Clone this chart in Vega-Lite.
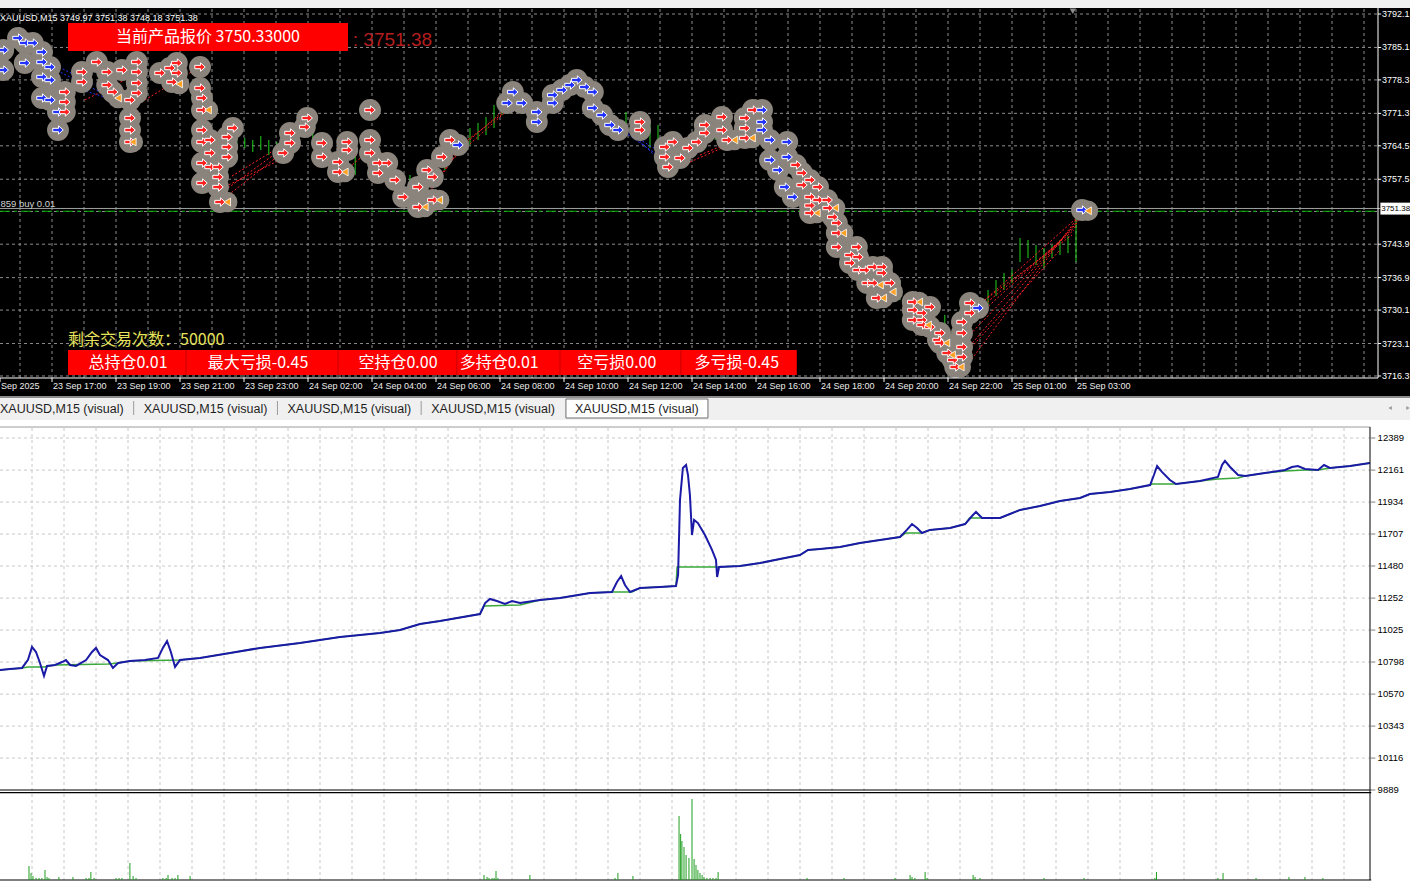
{
"$schema": "https://vega.github.io/schema/vega-lite/v6.json",
"background": "#f0f0f0",
"padding": {"top": 8, "left": 0, "right": 0, "bottom": 0},
"spacing": 0,
"bounds": "flush",
"config": {"view": {"stroke": null}, "font": "Liberation Sans", "axis": {"disable": true}, "legend": {"disable": true}},
"datasets": {
"pgrid": [{"p":3716.3},{"p":3723.1},{"p":3730.1},{"p":3736.9},{"p":3743.9},{"p":3750.75},{"p":3757.5},{"p":3764.5},{"p":3771.3},{"p":3778.3},{"p":3785.1},{"p":3792.1}],
"plabels": [{"p":3716.3},{"p":3723.1},{"p":3730.1},{"p":3736.9},{"p":3743.9},{"p":3757.5},{"p":3764.5},{"p":3771.3},{"p":3778.3},{"p":3785.1},{"p":3792.1}],
"tgrid": [{"b":0},{"b":4},{"b":8},{"b":12},{"b":16},{"b":20},{"b":24},{"b":28},{"b":32},{"b":36},{"b":40},{"b":44},{"b":48},{"b":52},{"b":56},{"b":60},{"b":64},{"b":68},{"b":72},{"b":76},{"b":80},{"b":84},{"b":88},{"b":92},{"b":96},{"b":100},{"b":104},{"b":108},{"b":112},{"b":116},{"b":120},{"b":124},{"b":128},{"b":132},{"b":136},{"b":140},{"b":144},{"b":148},{"b":152},{"b":156},{"b":160},{"b":164},{"b":168}],
"times": [{"b":-2.5,"label":"Sep 2025"},{"b":4,"label":"23 Sep 17:00"},{"b":12,"label":"23 Sep 19:00"},{"b":20,"label":"23 Sep 21:00"},{"b":28,"label":"23 Sep 23:00"},{"b":36,"label":"24 Sep 02:00"},{"b":44,"label":"24 Sep 04:00"},{"b":52,"label":"24 Sep 06:00"},{"b":60,"label":"24 Sep 08:00"},{"b":68,"label":"24 Sep 10:00"},{"b":76,"label":"24 Sep 12:00"},{"b":84,"label":"24 Sep 14:00"},{"b":92,"label":"24 Sep 16:00"},{"b":100,"label":"24 Sep 18:00"},{"b":108,"label":"24 Sep 20:00"},{"b":116,"label":"24 Sep 22:00"},{"b":124,"label":"25 Sep 01:00"},{"b":132,"label":"25 Sep 03:00"}],
"ohlc": [
{"b":27.1,"p":3763.62,"p2":3767.18},{"b":28.1,"p":3764.04,"p2":3766.13},{"b":29.1,"p":3763.2,"p2":3765.72},{"b":30.1,"p":3763.62,"p2":3766.55},{"b":31.1,"p":3762.57,"p2":3765.72},{"b":32.1,"p":3761.95,"p2":3765.3},
{"b":56.25,"p":3764.67,"p2":3768.23},{"b":57.25,"p":3765.72,"p2":3769.28},{"b":58.25,"p":3766.76,"p2":3770.53},{"b":59.25,"p":3768.23,"p2":3773.05},{"b":60.25,"p":3770.95,"p2":3775.14},
{"b":75.75,"p":3766.76,"p2":3771.58},{"b":76.75,"p":3767.81,"p2":3770.32},{"b":78.75,"p":3764.04,"p2":3769.49},{"b":79.75,"p":3764.67,"p2":3768.86},
{"b":120,"p":3729.7,"p2":3732.21},{"b":121,"p":3731.17,"p2":3734.31},{"b":122,"p":3733.05,"p2":3736.4},{"b":123,"p":3734.31,"p2":3737.87},{"b":124,"p":3735.77,"p2":3738.49},{"b":125,"p":3740.17,"p2":3745.19},{"b":126,"p":3741.01,"p2":3744.78},{"b":127,"p":3739.54,"p2":3743.73},{"b":128,"p":3738.91,"p2":3743.1},{"b":129,"p":3741.01,"p2":3743.73},{"b":130,"p":3741.63,"p2":3744.78},{"b":131,"p":3742.05,"p2":3745.61},{"b":132,"p":3740.17,"p2":3749.38},
{"b":11.6,"p":3774.09,"p2":3781.42},{"b":20.6,"p":3776.19,"p2":3782.47},{"b":36.6,"p":3765.72,"p2":3770.95},{"b":41.9,"p":3758.39,"p2":3765.72},{"b":48.75,"p":3752.1,"p2":3758.39},{"b":53.1,"p":3759.43,"p2":3764.04},{"b":65.6,"p":3770.32,"p2":3776.6},{"b":86.9,"p":3765.72,"p2":3770.32},{"b":97.5,"p":3754.2,"p2":3761.53},{"b":110,"p":3732.21,"p2":3736.4},{"b":115.6,"p":3722.79,"p2":3729.07}],
"segs": [
{"b":25.25,"p":3753.15,"b2":32.9,"p2":3763.2,"side":"sell"},{"b":26,"p":3755.66,"b2":33.75,"p2":3765.09,"side":"sell"},{"b":26.5,"p":3758.18,"b2":34.5,"p2":3766.34,"side":"sell"},{"b":24.75,"p":3755.25,"b2":32.5,"p2":3761.53,"side":"sell"},
{"b":50,"p":3752.1,"b2":54.75,"p2":3763.62,"side":"sell"},{"b":51,"p":3754.2,"b2":55.6,"p2":3765.3,"side":"sell"},{"b":54,"p":3761.53,"b2":61.25,"p2":3772.42,"side":"sell"},{"b":54.75,"p":3763.62,"b2":62.25,"p2":3774.51,"side":"sell"},{"b":55.6,"p":3765.3,"b2":60.6,"p2":3771.58,"side":"sell"},
{"b":117.75,"p":3717.14,"b2":132.75,"p2":3750.64,"side":"sell"},{"b":117.75,"p":3720.7,"b2":132.5,"p2":3749.38,"side":"sell"},{"b":118.1,"p":3723.84,"b2":132.25,"p2":3748.55,"side":"sell"},{"b":118.5,"p":3726.98,"b2":132,"p2":3747.71,"side":"sell"},{"b":119,"p":3729.07,"b2":131.75,"p2":3746.87,"side":"sell"},{"b":119.75,"p":3731.17,"b2":131.5,"p2":3745.82,"side":"sell"},{"b":116.9,"p":3718.6,"b2":130,"p2":3742.68,"side":"sell"},{"b":120.6,"p":3732.21,"b2":132.5,"p2":3750.01,"side":"sell"},
{"b":40,"p":3758.39,"b2":43.75,"p2":3763.62,"side":"sell"},{"b":83.75,"p":3761.11,"b2":90.6,"p2":3766.13,"side":"sell"},{"b":85,"p":3762.57,"b2":92.5,"p2":3767.81,"side":"sell"},{"b":8.1,"p":3774.09,"b2":13.1,"p2":3778.28,"side":"sell"},{"b":15.6,"p":3774.09,"b2":22.25,"p2":3780.79,"side":"sell"},
{"b":3.75,"p":3781.0,"b2":10,"p2":3775.77,"side":"buy"},{"b":4.4,"p":3777.86,"b2":10.6,"p2":3774.72,"side":"buy"},{"b":3.1,"p":3782.47,"b2":9.4,"p2":3777.23,"side":"buy"},{"b":71.9,"p":3771.58,"b2":80.6,"p2":3761.53,"side":"buy"},{"b":73.1,"p":3772.42,"b2":81,"p2":3759.85,"side":"buy"},{"b":74,"p":3769.49,"b2":80,"p2":3763.2,"side":"buy"}],
"marks": [
{"b":-2.1,"p":3784.56,"side":"buy"},{"b":-2.1,"p":3780.37,"side":"buy"},{"b":-0.25,"p":3787.07,"side":"buy"},{"b":0.6,"p":3786.03,"side":"buy"},{"b":0.6,"p":3781.84,"side":"buy"},{"b":1.6,"p":3786.03,"side":"buy"},{"b":2.75,"p":3784.14,"side":"buy"},{"b":2.75,"p":3782.05,"side":"buy"},{"b":3.75,"p":3781.0,"side":"buy"},{"b":2.75,"p":3778.91,"side":"buy"},{"b":3.75,"p":3778.28,"side":"buy"},{"b":2.75,"p":3774.51,"side":"buy"},{"b":3.75,"p":3774.09,"side":"buy"},{"b":4.75,"p":3771.58,"side":"buy"},{"b":4.75,"p":3767.81,"side":"buy"},
{"b":5.6,"p":3775.77,"side":"sell"},{"b":5.6,"p":3773.67,"side":"sell"},{"b":5.6,"p":3771.58,"side":"sell"},{"b":7.75,"p":3779.95,"side":"sell"},{"b":7.75,"p":3777.86,"side":"sell"},{"b":9.6,"p":3782.05,"side":"sell"},{"b":10.9,"p":3779.95,"side":"sell"},{"b":10.9,"p":3777.23,"side":"sell"},{"b":11.6,"p":3775.77,"side":"sell"},{"b":12.75,"p":3780.37,"side":"sell"},{"b":13.75,"p":3774.09,"side":"sell"},{"b":13.75,"p":3770.32,"side":"sell"},{"b":13.75,"p":3767.81,"side":"sell"},{"b":13.75,"p":3765.3,"side":"sell"},{"b":14.6,"p":3782.05,"side":"sell"},{"b":14.6,"p":3779.95,"side":"sell"},{"b":14.6,"p":3777.65,"side":"sell"},{"b":14.6,"p":3775.56,"side":"sell"},{"b":17.5,"p":3779.75,"side":"sell"},{"b":18.75,"p":3780.79,"side":"sell"},{"b":19,"p":3777.86,"side":"sell"},{"b":19.6,"p":3781.84,"side":"sell"},{"b":19.6,"p":3779.75,"side":"sell"},
{"b":22.5,"p":3781.0,"side":"sell"},{"b":22.5,"p":3776.6,"side":"sell"},{"b":22.75,"p":3774.51,"side":"sell"},{"b":22.75,"p":3772.0,"side":"sell"},{"b":22.75,"p":3767.81,"side":"sell"},{"b":22.75,"p":3765.3,"side":"sell"},{"b":22.75,"p":3760.9,"side":"sell"},{"b":22.75,"p":3756.71,"side":"sell"},{"b":23.75,"p":3765.72,"side":"sell"},{"b":23.75,"p":3763.0,"side":"sell"},{"b":23.75,"p":3760.06,"side":"sell"},{"b":24.75,"p":3760.06,"side":"sell"},{"b":24.75,"p":3757.97,"side":"sell"},{"b":24.75,"p":3755.87,"side":"sell"},{"b":25,"p":3752.73,"side":"sell"},{"b":25.9,"p":3766.34,"side":"sell"},{"b":25.9,"p":3764.25,"side":"sell"},{"b":25.9,"p":3762.16,"side":"sell"},{"b":26.6,"p":3768.23,"side":"sell"},
{"b":32.9,"p":3763.0,"side":"sell"},{"b":33.75,"p":3767.18,"side":"sell"},{"b":33.75,"p":3765.09,"side":"sell"},{"b":35.9,"p":3770.32,"side":"sell"},{"b":35.6,"p":3768.44,"side":"sell"},{"b":37.75,"p":3765.09,"side":"sell"},{"b":37.75,"p":3762.16,"side":"sell"},{"b":39.75,"p":3761.11,"side":"sell"},{"b":39.75,"p":3759.01,"side":"sell"},{"b":40.9,"p":3765.3,"side":"sell"},{"b":40.9,"p":3763.62,"side":"sell"},{"b":43.75,"p":3772.0,"side":"sell"},{"b":43.75,"p":3765.72,"side":"sell"},{"b":43.75,"p":3763.0,"side":"sell"},{"b":44.75,"p":3760.9,"side":"sell"},{"b":44.75,"p":3758.81,"side":"sell"},{"b":45.9,"p":3760.9,"side":"sell"},{"b":46.9,"p":3757.34,"side":"sell"},{"b":47.9,"p":3753.78,"side":"sell"},{"b":49.75,"p":3755.87,"side":"sell"},{"b":49.75,"p":3751.69,"side":"sell"},{"b":50.9,"p":3759.43,"side":"sell"},{"b":51.6,"p":3757.97,"side":"sell"},{"b":51.6,"p":3753.15,"side":"sell"},{"b":52.75,"p":3762.16,"side":"sell"},{"b":53.75,"p":3765.72,"side":"sell"},{"b":54.75,"p":3764.67,"side":"buy"},
{"b":60.9,"p":3773.46,"side":"buy"},{"b":61.6,"p":3775.77,"side":"buy"},{"b":62.75,"p":3773.46,"side":"buy"},{"b":64.6,"p":3771.58,"side":"buy"},{"b":64.6,"p":3769.49,"side":"buy"},{"b":66.6,"p":3775.14,"side":"buy"},{"b":66.6,"p":3773.46,"side":"buy"},{"b":67.75,"p":3776.19,"side":"buy"},{"b":68.75,"p":3777.23,"side":"buy"},{"b":69.6,"p":3778.28,"side":"buy"},{"b":70.6,"p":3776.81,"side":"buy"},{"b":71.6,"p":3775.77,"side":"buy"},{"b":71.6,"p":3772.42,"side":"buy"},{"b":72.75,"p":3770.95,"side":"buy"},{"b":73.75,"p":3768.86,"side":"buy"},{"b":74.75,"p":3767.81,"side":"buy"},
{"b":77.5,"p":3769.49,"side":"sell"},{"b":77.5,"p":3767.81,"side":"sell"},{"b":80.6,"p":3764.25,"side":"sell"},{"b":80.6,"p":3762.16,"side":"sell"},{"b":81,"p":3760.06,"side":"sell"},{"b":81.6,"p":3765.3,"side":"sell"},{"b":82.5,"p":3761.95,"side":"sell"},{"b":83.5,"p":3764.04,"side":"sell"},{"b":84.6,"p":3765.3,"side":"sell"},{"b":85.6,"p":3768.86,"side":"sell"},{"b":85.6,"p":3767.18,"side":"sell"},{"b":87.75,"p":3770.53,"side":"sell"},{"b":87.75,"p":3767.81,"side":"sell"},{"b":88.4,"p":3765.72,"side":"sell"},{"b":90.6,"p":3770.32,"side":"sell"},{"b":90.6,"p":3768.2,"side":"sell"},{"b":90.6,"p":3766.13,"side":"sell"},{"b":91.6,"p":3772.0,"side":"sell"},
{"b":92.75,"p":3772.0,"side":"buy"},{"b":92.75,"p":3769.49,"side":"buy"},{"b":92.75,"p":3767.81,"side":"buy"},{"b":93.75,"p":3765.72,"side":"buy"},{"b":93.75,"p":3761.53,"side":"buy"},{"b":94.75,"p":3759.43,"side":"buy"},{"b":95.9,"p":3765.3,"side":"buy"},{"b":95.9,"p":3762.16,"side":"buy"},{"b":95.6,"p":3755.87,"side":"buy"},{"b":96.6,"p":3753.78,"side":"buy"},
{"b":97.0,"p":3760.5,"side":"sell"},{"b":97.75,"p":3758.81,"side":"sell"},{"b":97.75,"p":3756.29,"side":"sell"},{"b":98.75,"p":3757.34,"side":"sell"},{"b":98.75,"p":3753.78,"side":"sell"},{"b":98.75,"p":3752.0,"side":"sell"},{"b":98.75,"p":3750.43,"side":"sell"},{"b":99.75,"p":3755.87,"side":"sell"},{"b":99.75,"p":3753.15,"side":"sell"},{"b":100.9,"p":3753.15,"side":"sell"},{"b":101,"p":3751.48,"side":"sell"},{"b":101.6,"p":3749.59,"side":"sell"},{"b":102.1,"p":3748.34,"side":"sell"},{"b":102.1,"p":3746.24,"side":"sell"},{"b":102.1,"p":3743.31,"side":"sell"},{"b":103.75,"p":3741.63,"side":"sell"},{"b":103.75,"p":3739.96,"side":"sell"},{"b":104.6,"p":3743.31,"side":"sell"},{"b":104.75,"p":3741.21,"side":"sell"},{"b":104.75,"p":3738.49,"side":"sell"},{"b":105.6,"p":3738.49,"side":"sell"},{"b":105.9,"p":3735.77,"side":"sell"},{"b":106.6,"p":3739.12,"side":"sell"},{"b":106.6,"p":3735.77,"side":"sell"},{"b":107.75,"p":3739.12,"side":"sell"},{"b":107.75,"p":3737.87,"side":"sell"},{"b":108.75,"p":3735.77,"side":"sell"},{"b":107.1,"p":3732.63,"side":"sell"},
{"b":111.6,"p":3731.79,"side":"sell"},{"b":111.6,"p":3730.12,"side":"sell"},{"b":111.6,"p":3728.02,"side":"sell"},{"b":112.75,"p":3729.49,"side":"sell"},{"b":112.75,"p":3728.02,"side":"sell"},{"b":112.75,"p":3726.98,"side":"sell"},{"b":113.75,"p":3730.75,"side":"sell"},{"b":113.75,"p":3726.56,"side":"sell"},{"b":114.75,"p":3723.84,"side":"sell"},{"b":115,"p":3725.3,"side":"sell"},{"b":115,"p":3723.21,"side":"sell"},{"b":115.9,"p":3721.11,"side":"sell"},{"b":116.6,"p":3719.65,"side":"sell"},{"b":116.9,"p":3718.18,"side":"sell"},{"b":117.75,"p":3720.28,"side":"sell"},{"b":117.75,"p":3722.37,"side":"sell"},{"b":117.75,"p":3725.3,"side":"sell"},{"b":117.75,"p":3727.61,"side":"sell"},{"b":118.75,"p":3731.58,"side":"sell"},{"b":118.75,"p":3729.49,"side":"sell"},
{"b":119.75,"p":3730.54,"side":"buy"},{"b":132.75,"p":3751.06,"side":"buy"}],
"closes": [{"b":12.25,"p":3774.51},{"b":14.1,"p":3765.3},{"b":19.9,"p":3777.44},{"b":23.5,"p":3772.0},{"b":25.9,"p":3752.73},{"b":40.6,"p":3759.01},{"b":50.6,"p":3751.69},{"b":52.4,"p":3753.15},{"b":89.3,"p":3765.72},{"b":91.5,"p":3766.13},{"b":99.6,"p":3750.43},{"b":101.9,"p":3751.48},{"b":102.9,"p":3746.24},{"b":107.5,"p":3735.35},{"b":107.9,"p":3732.63},{"b":109.1,"p":3733.89},{"b":112.4,"p":3731.79},{"b":113.5,"p":3726.98},{"b":115.8,"p":3723.21},{"b":116.5,"p":3720.7},{"b":117.6,"p":3718.18},{"b":133.5,"p":3750.9}],
"cells": [{"b":13.5,"label":"总持仓0.01"},{"b":29.75,"label":"最大亏损-0.45"},{"b":47.25,"label":"空持仓0.00"},{"b":59.9,"label":"多持仓0.01"},{"b":74.6,"label":"空亏损0.00"},{"b":89.6,"label":"多亏损-0.45"}],
"dividers": [{"b":20.75},{"b":39.75},{"b":54.6},{"b":67.5},{"b":82.6}],
"tabs": [{"t":0,"label":"XAUUSD,M15 (visual)"},{"t":1,"label":"XAUUSD,M15 (visual)"},{"t":2,"label":"XAUUSD,M15 (visual)"},{"t":3,"label":"XAUUSD,M15 (visual)"},{"t":4,"label":"XAUUSD,M15 (visual)"}],
"tabseps": [{"t":0.93},{"t":1.93},{"t":2.93}],
"egrid": [{"v":12389},{"v":12161},{"v":11934},{"v":11707},{"v":11480},{"v":11252},{"v":11025},{"v":10798},{"v":10570},{"v":10343},{"v":10116}],
"elabels": [{"v":12389},{"v":12161},{"v":11934},{"v":11707},{"v":11480},{"v":11252},{"v":11025},{"v":10798},{"v":10570},{"v":10343},{"v":10116},{"v":9889}],
"ugrid": [{"u":1},{"u":2},{"u":3},{"u":4},{"u":5},{"u":6},{"u":7},{"u":8},{"u":9},{"u":10},{"u":11},{"u":12},{"u":13},{"u":14},{"u":15},{"u":16},{"u":17},{"u":18},{"u":19},{"u":20},{"u":21},{"u":22},{"u":23},{"u":24},{"u":25},{"u":26},{"u":27},{"u":28},{"u":29},{"u":30},{"u":31},{"u":32},{"u":33},{"u":34},{"u":35},{"u":36},{"u":37},{"u":38},{"u":39},{"u":40},{"u":41},{"u":42}],
"blue": [{"u":0,"v":10741},{"u":0.31,"v":10749},{"u":0.69,"v":10756},{"u":0.875,"v":10813},{"u":1.0,"v":10905},{"u":1.125,"v":10869},{"u":1.25,"v":10791},{"u":1.375,"v":10699},{"u":1.47,"v":10770},{"u":1.72,"v":10777},{"u":1.94,"v":10798},{"u":2.06,"v":10812},{"u":2.19,"v":10777},{"u":2.375,"v":10770},{"u":2.69,"v":10812},{"u":2.875,"v":10869},{"u":3.0,"v":10898},{"u":3.125,"v":10848},{"u":3.375,"v":10812},{"u":3.53,"v":10756},{"u":3.69,"v":10791},{"u":4.06,"v":10805},{"u":4.53,"v":10812},{"u":4.94,"v":10827},{"u":5.09,"v":10898},{"u":5.22,"v":10947},{"u":5.34,"v":10869},{"u":5.47,"v":10763},{"u":5.625,"v":10812},{"u":6.25,"v":10827},{"u":7.19,"v":10862},{"u":8.125,"v":10898},{"u":9.375,"v":10933},{"u":10.625,"v":10976},{"u":11.875,"v":11004},{"u":12.5,"v":11025},{"u":13.125,"v":11068},{"u":13.75,"v":11089},{"u":15.0,"v":11139},{"u":15.16,"v":11217},{"u":15.31,"v":11246},{"u":15.53,"v":11231},{"u":15.78,"v":11210},{"u":16.0,"v":11231},{"u":16.25,"v":11217},{"u":16.875,"v":11238},{"u":17.5,"v":11253},{"u":18.44,"v":11288},{"u":19.125,"v":11295},{"u":19.28,"v":11366},{"u":19.41,"v":11409},{"u":19.53,"v":11345},{"u":19.69,"v":11295},{"u":20.0,"v":11324},{"u":20.625,"v":11331},{"u":21.125,"v":11338},{"u":21.19,"v":11416},{"u":21.25,"v":11949},{"u":21.34,"v":12176},{"u":21.44,"v":12197},{"u":21.5,"v":12126},{"u":21.56,"v":11984},{"u":21.625,"v":11700},{"u":21.69,"v":11807},{"u":21.81,"v":11785},{"u":22.03,"v":11700},{"u":22.25,"v":11594},{"u":22.375,"v":11523},{"u":22.41,"v":11402},{"u":22.47,"v":11473},{"u":23.125,"v":11480},{"u":23.75,"v":11501},{"u":24.375,"v":11530},{"u":25.0,"v":11558},{"u":25.25,"v":11594},{"u":25.625,"v":11601},{"u":26.25,"v":11615},{"u":26.875,"v":11643},{"u":27.5,"v":11665},{"u":28.125,"v":11686},{"u":28.34,"v":11736},{"u":28.5,"v":11778},{"u":28.66,"v":11750},{"u":28.81,"v":11714},{"u":29.06,"v":11736},{"u":29.69,"v":11750},{"u":30.16,"v":11778},{"u":30.375,"v":11835},{"u":30.5,"v":11864},{"u":30.69,"v":11821},{"u":31.25,"v":11821},{"u":31.56,"v":11849},{"u":31.875,"v":11878},{"u":32.5,"v":11906},{"u":33.125,"v":11942},{"u":33.75,"v":11963},{"u":34.06,"v":11991},{"u":34.69,"v":12006},{"u":35.31,"v":12027},{"u":35.94,"v":12055},{"u":36.06,"v":12126},{"u":36.16,"v":12190},{"u":36.31,"v":12148},{"u":36.56,"v":12091},{"u":36.75,"v":12062},{"u":37.5,"v":12084},{"u":38.06,"v":12112},{"u":38.19,"v":12197},{"u":38.28,"v":12226},{"u":38.44,"v":12183},{"u":38.69,"v":12126},{"u":38.91,"v":12119},{"u":39.53,"v":12140},{"u":40.16,"v":12162},{"u":40.375,"v":12183},{"u":40.56,"v":12190},{"u":40.78,"v":12169},{"u":41.19,"v":12162},{"u":41.375,"v":12197},{"u":41.56,"v":12176},{"u":42.19,"v":12190},{"u":42.81,"v":12211}],
"green": [{"u":0,"v":10741},{"u":0.69,"v":10756},{"u":0.875,"v":10763},{"u":1.375,"v":10763},{"u":1.72,"v":10777},{"u":3.375,"v":10784},{"u":3.69,"v":10791},{"u":4.06,"v":10805},{"u":5.625,"v":10812},{"u":6.25,"v":10827},{"u":7.19,"v":10862},{"u":8.125,"v":10898},{"u":9.375,"v":10933},{"u":10.625,"v":10976},{"u":11.875,"v":11004},{"u":12.5,"v":11025},{"u":13.125,"v":11068},{"u":13.75,"v":11089},{"u":15.0,"v":11139},{"u":15.13,"v":11196},{"u":16.25,"v":11203},{"u":16.875,"v":11238},{"u":17.5,"v":11253},{"u":18.44,"v":11288},{"u":19.125,"v":11295},{"u":19.75,"v":11295},{"u":20.0,"v":11324},{"u":21.125,"v":11338},{"u":21.16,"v":11473},{"u":22.47,"v":11473},{"u":23.125,"v":11480},{"u":23.75,"v":11501},{"u":24.375,"v":11530},{"u":25.0,"v":11558},{"u":25.25,"v":11594},{"u":25.625,"v":11601},{"u":26.25,"v":11615},{"u":26.875,"v":11643},{"u":27.5,"v":11665},{"u":28.125,"v":11686},{"u":28.3,"v":11714},{"u":28.81,"v":11714},{"u":29.06,"v":11736},{"u":29.69,"v":11750},{"u":30.16,"v":11778},{"u":30.3,"v":11821},{"u":31.25,"v":11821},{"u":31.56,"v":11849},{"u":31.875,"v":11878},{"u":32.5,"v":11906},{"u":33.125,"v":11942},{"u":33.75,"v":11963},{"u":34.06,"v":11991},{"u":34.69,"v":12006},{"u":35.31,"v":12027},{"u":35.94,"v":12055},{"u":36.0,"v":12062},{"u":36.75,"v":12062},{"u":37.5,"v":12084},{"u":38.06,"v":12098},{"u":38.69,"v":12105},{"u":38.91,"v":12119},{"u":39.53,"v":12140},{"u":40.16,"v":12155},{"u":40.78,"v":12162},{"u":41.19,"v":12162},{"u":41.56,"v":12176},{"u":42.19,"v":12190},{"u":42.81,"v":12211}],
"vol": [{"u":0.906,"h":14},{"u":0.969,"h":7},{"u":1.03,"h":4},{"u":1.125,"h":2},{"u":1.22,"h":2},{"u":1.31,"h":2},{"u":1.406,"h":10},{"u":1.47,"h":3},{"u":1.53,"h":2},{"u":1.84,"h":3},{"u":2.28,"h":3},{"u":2.69,"h":2},{"u":2.78,"h":2},{"u":2.84,"h":8},{"u":2.94,"h":2},{"u":3.625,"h":2},{"u":3.72,"h":2},{"u":3.81,"h":2},{"u":4.06,"h":17},{"u":4.16,"h":4},{"u":4.25,"h":2},{"u":5.09,"h":2},{"u":5.19,"h":2},{"u":5.25,"h":5},{"u":5.375,"h":2},{"u":5.47,"h":2},{"u":5.56,"h":5},{"u":5.94,"h":4},{"u":15.125,"h":5},{"u":15.22,"h":3},{"u":15.28,"h":2},{"u":15.375,"h":2},{"u":15.44,"h":2},{"u":15.5,"h":9},{"u":15.56,"h":2},{"u":16.56,"h":5},{"u":19.22,"h":2},{"u":19.31,"h":7},{"u":19.78,"h":4},{"u":21.22,"h":64},{"u":21.27,"h":46},{"u":21.31,"h":39},{"u":21.375,"h":33},{"u":21.44,"h":25},{"u":21.53,"h":22},{"u":21.625,"h":81},{"u":21.69,"h":21},{"u":21.75,"h":15},{"u":21.81,"h":10},{"u":21.875,"h":7},{"u":21.94,"h":5},{"u":22.0,"h":3},{"u":22.09,"h":2},{"u":22.19,"h":2},{"u":22.28,"h":2},{"u":22.375,"h":2},{"u":22.44,"h":8},{"u":25.22,"h":2},{"u":26.375,"h":2},{"u":27.97,"h":2},{"u":28.44,"h":5},{"u":28.5,"h":3},{"u":28.59,"h":2},{"u":28.91,"h":8},{"u":28.97,"h":2},{"u":30.41,"h":5},{"u":30.47,"h":3},{"u":30.625,"h":2},{"u":32.625,"h":2},{"u":33.875,"h":2},{"u":36.09,"h":2},{"u":36.14,"h":8},{"u":38.06,"h":2},{"u":38.22,"h":7},{"u":39.25,"h":2},{"u":40.28,"h":3},{"u":40.78,"h":3},{"u":41.34,"h":2}]
},
"vconcat": [
{
 "width": 1410, "height": 388,
 "view": {"fill": "#000000", "stroke": null},
 "layer": [
  {"data": {"name": "pgrid"}, "mark": {"type": "rule", "color": "#8c8c8c", "strokeDash": [3, 3], "strokeWidth": 1, "clip": true},
   "encoding": {
    "x": {"datum": -2.5, "type": "quantitative", "scale": {"domain": [-2.5, 173.75], "nice": false, "zero": false}, "axis": null},
    "x2": {"datum": 169.75},
    "y": {"field": "p", "type": "quantitative", "scale": {"domain": [3712.11, 3793.36], "nice": false, "zero": false}, "axis": null}}},
  {"data": {"name": "tgrid"}, "mark": {"type": "rule", "color": "#8c8c8c", "strokeDash": [3, 3], "strokeWidth": 1, "clip": true},
   "encoding": {
    "x": {"field": "b", "type": "quantitative", "axis": null},
    "y": {"datum": 3715.88, "type": "quantitative", "axis": null}, "y2": {"datum": 3793.36}}},
  {"data": {"values": [{"p": 3751.38}]}, "mark": {"type": "rule", "color": "#a0a0a0", "strokeWidth": 1, "clip": true},
   "encoding": {"x": {"datum": -2.5, "type": "quantitative", "axis": null}, "x2": {"datum": 170.05},
    "y": {"field": "p", "type": "quantitative", "axis": null}}},
  {"data": {"values": [{"p": 3750.8}]}, "mark": {"type": "rule", "color": "#00b400", "strokeDash": [10, 4, 3, 4], "strokeWidth": 1, "clip": true},
   "encoding": {"x": {"datum": -2.5, "type": "quantitative", "axis": null}, "x2": {"datum": 169.75},
    "y": {"field": "p", "type": "quantitative", "axis": null}}},
  {"data": {"name": "ohlc"}, "mark": {"type": "rule", "color": "#1ed21e", "strokeWidth": 1, "clip": true},
   "encoding": {"x": {"field": "b", "type": "quantitative", "axis": null},
    "y": {"field": "p", "type": "quantitative", "axis": null}, "y2": {"field": "p2"}}},
  {"data": {"name": "segs"}, "mark": {"type": "rule", "strokeDash": [2, 2], "strokeWidth": 1, "clip": true},
   "encoding": {"x": {"field": "b", "type": "quantitative", "axis": null}, "x2": {"field": "b2"},
    "y": {"field": "p", "type": "quantitative", "axis": null}, "y2": {"field": "p2"},
    "color": {"field": "side", "type": "nominal", "scale": {"domain": ["sell", "buy"], "range": ["#ff2020", "#2233ff"]}, "legend": null}}},
  {"data": {"name": "marks"}, "mark": {"type": "circle", "size": 480, "fill": "#8a847c", "opacity": 1, "clip": true},
   "encoding": {"x": {"field": "b", "type": "quantitative", "axis": null}, "y": {"field": "p", "type": "quantitative", "axis": null}}},
  {"data": {"name": "closes"}, "mark": {"type": "circle", "size": 420, "fill": "#8a847c", "opacity": 1, "clip": true},
   "encoding": {"x": {"field": "b", "type": "quantitative", "axis": null}, "y": {"field": "p", "type": "quantitative", "axis": null}}},
  {"data": {"name": "marks"}, "mark": {"type": "point", "shape": "M-1,-0.32L0.1,-0.32L0.1,-0.8L1,0L0.1,0.8L0.1,0.32L-1,0.32Z", "size": 110, "filled": true, "opacity": 1, "stroke": "#ffffff", "strokeWidth": 1, "clip": true},
   "encoding": {"x": {"field": "b", "type": "quantitative", "axis": null}, "y": {"field": "p", "type": "quantitative", "axis": null},
    "color": {"field": "side", "type": "nominal", "scale": {"domain": ["sell", "buy"], "range": ["#ff2020", "#2233ff"]}, "legend": null}}},
  {"data": {"name": "closes"}, "mark": {"type": "point", "shape": "triangle-left", "size": 60, "filled": true, "fill": "#ffa020", "stroke": "#ffffff", "strokeWidth": 0.8, "opacity": 1, "clip": true},
   "encoding": {"x": {"field": "b", "type": "quantitative", "axis": null}, "y": {"field": "p", "type": "quantitative", "axis": null}}},
  {"data": {"values": [{"b": 6.0, "b2": 41.0, "p": 3790.22, "p2": 3784.35}, {"b": 6.0, "b2": 97.1, "p": 3721.74, "p2": 3716.51}]}, "mark": {"type": "rect", "color": "#ff0000"},
   "encoding": {"x": {"field": "b", "type": "quantitative", "axis": null}, "x2": {"field": "b2"},
    "y": {"field": "p", "type": "quantitative", "axis": null}, "y2": {"field": "p2"}}},
  {"data": {"values": [{"b": 23.5, "p": 3787.3, "label": "当前产品报价  3750.33000"}]}, "mark": {"type": "text", "color": "#ffffff", "font": "Noto Sans CJK SC", "fontSize": 16, "align": "center", "baseline": "middle"},
   "encoding": {"x": {"field": "b", "type": "quantitative", "axis": null}, "y": {"field": "p", "type": "quantitative", "axis": null}, "text": {"field": "label", "type": "nominal"}}},
  {"data": {"values": [{"b": 41.6, "p": 3786.7, "label": ":  3751.38"}]}, "mark": {"type": "text", "color": "#b41e1e", "font": "Liberation Sans", "fontSize": 19, "align": "left", "baseline": "middle"},
   "encoding": {"x": {"field": "b", "type": "quantitative", "axis": null}, "y": {"field": "p", "type": "quantitative", "axis": null}, "text": {"field": "label", "type": "nominal"}}},
  {"data": {"values": [{"b": 6.0, "p": 3723.84, "label": "剩余交易次数：50000"}]}, "mark": {"type": "text", "color": "#e6e35c", "font": "Noto Sans CJK SC", "fontSize": 16, "align": "left", "baseline": "middle"},
   "encoding": {"x": {"field": "b", "type": "quantitative", "axis": null}, "y": {"field": "p", "type": "quantitative", "axis": null}, "text": {"field": "label", "type": "nominal"}}},
  {"data": {"name": "dividers"}, "mark": {"type": "rule", "color": "#c80000", "strokeWidth": 1, "clip": true},
   "encoding": {"x": {"field": "b", "type": "quantitative", "axis": null},
    "y": {"datum": 3721.74, "type": "quantitative", "axis": null}, "y2": {"datum": 3716.51}}},
  {"data": {"name": "cells"}, "mark": {"type": "text", "color": "#ffffff", "font": "Noto Sans CJK SC", "fontSize": 16, "align": "center", "baseline": "middle"},
   "encoding": {"x": {"field": "b", "type": "quantitative", "axis": null},
    "y": {"datum": 3719.12, "type": "quantitative", "axis": null}, "text": {"field": "label", "type": "nominal"}}},
  {"data": {"values": [{"b": -2.5, "p": 3791.26, "label": "XAUUSD,M15  3749.97 3751.38 3748.18 3751.38"}]}, "mark": {"type": "text", "color": "#ffffff", "fontSize": 9, "align": "left", "baseline": "middle", "clip": true},
   "encoding": {"x": {"field": "b", "type": "quantitative", "axis": null}, "y": {"field": "p", "type": "quantitative", "axis": null}, "text": {"field": "label", "type": "nominal"}}},
  {"data": {"values": [{"b": -2.45, "p": 3752.4, "label": "859 buy 0.01"}]}, "mark": {"type": "text", "color": "#d0d0d0", "fontSize": 9.5, "align": "left", "baseline": "middle", "clip": true},
   "encoding": {"x": {"field": "b", "type": "quantitative", "axis": null}, "y": {"field": "p", "type": "quantitative", "axis": null}, "text": {"field": "label", "type": "nominal"}}},
  {"data": {"values": [{"p": 3715.88}]}, "mark": {"type": "rule", "color": "#ffffff", "strokeWidth": 1, "clip": true},
   "encoding": {"x": {"datum": -2.5, "type": "quantitative", "axis": null}, "x2": {"datum": 169.75},
    "y": {"field": "p", "type": "quantitative", "axis": null}}},
  {"data": {"values": [{"b": 169.75}]}, "mark": {"type": "rule", "color": "#ffffff", "strokeWidth": 1, "clip": true},
   "encoding": {"x": {"field": "b", "type": "quantitative", "axis": null},
    "y": {"datum": 3715.88, "type": "quantitative", "axis": null}, "y2": {"datum": 3793.36}}},
  {"data": {"name": "times"}, "mark": {"type": "rule", "color": "#ffffff", "strokeWidth": 1, "clip": true},
   "encoding": {"x": {"field": "b", "type": "quantitative", "axis": null},
    "y": {"datum": 3715.88, "type": "quantitative", "axis": null}, "y2": {"datum": 3715.05}}},
  {"data": {"name": "times"}, "mark": {"type": "text", "color": "#ececec", "fontSize": 9, "align": "left", "baseline": "middle", "dx": 1, "clip": true},
   "encoding": {"x": {"field": "b", "type": "quantitative", "axis": null},
    "y": {"datum": 3714.3, "type": "quantitative", "axis": null}, "text": {"field": "label", "type": "nominal"}}},
  {"data": {"name": "plabels"}, "mark": {"type": "rule", "color": "#ffffff", "strokeWidth": 1, "clip": true},
   "encoding": {"x": {"datum": 169.75, "type": "quantitative", "axis": null}, "x2": {"datum": 170.15},
    "y": {"field": "p", "type": "quantitative", "axis": null}}},
  {"data": {"name": "plabels"}, "mark": {"type": "text", "color": "#ffffff", "fontSize": 9, "align": "left", "baseline": "middle", "clip": true},
   "encoding": {"x": {"datum": 170.25, "type": "quantitative", "axis": null},
    "y": {"field": "p", "type": "quantitative", "axis": null}, "text": {"field": "p", "type": "quantitative", "format": ".1f"}}},
  {"data": {"values": [{"b": 170.05, "b2": 173.75, "p": 3752.6, "p2": 3750.1}]}, "mark": {"type": "rect", "color": "#ffffff"},
   "encoding": {"x": {"field": "b", "type": "quantitative", "axis": null}, "x2": {"field": "b2"},
    "y": {"field": "p", "type": "quantitative", "axis": null}, "y2": {"field": "p2"}}},
  {"data": {"values": [{"b": 170.15, "p": 3751.35, "label": "3751.38"}]}, "mark": {"type": "text", "color": "#000000", "fontSize": 8, "align": "left", "baseline": "middle", "clip": true},
   "encoding": {"x": {"field": "b", "type": "quantitative", "axis": null}, "y": {"field": "p", "type": "quantitative", "axis": null}, "text": {"field": "label", "type": "nominal"}}},
  {"data": {"values": [{"b": 131.6, "p": 3792.7}]}, "mark": {"type": "point", "shape": "triangle-down", "size": 40, "filled": true, "color": "#8c8c8c", "opacity": 1, "clip": true},
   "encoding": {"x": {"field": "b", "type": "quantitative", "axis": null}, "y": {"field": "p", "type": "quantitative", "axis": null}}}
 ]
},
{
 "width": 1410, "height": 24,
 "view": {"fill": "#f0f0f0", "stroke": null},
 "layer": [
  {"data": {"values": [{"r": 23}]}, "mark": {"type": "rule", "color": "#8c8c8c", "strokeWidth": 2, "clip": true},
   "encoding": {"x": {"datum": 0, "type": "quantitative", "scale": {"domain": [0, 9.8087], "nice": false, "zero": false}, "axis": null}, "x2": {"datum": 9.8087},
    "y": {"field": "r", "type": "quantitative", "scale": {"domain": [0, 24], "nice": false, "zero": false}, "axis": null}}},
  {"data": {"values": [{"t": 3.937, "t2": 4.925, "r": 21, "r2": 2}]}, "mark": {"type": "rect", "fill": "#ffffff", "stroke": "#6e6e6e", "strokeWidth": 1},
   "encoding": {"x": {"field": "t", "type": "quantitative", "axis": null}, "x2": {"field": "t2"},
    "y": {"field": "r", "type": "quantitative", "axis": null}, "y2": {"field": "r2"}}},
  {"data": {"name": "tabseps"}, "mark": {"type": "rule", "color": "#9a9a9a", "strokeWidth": 1, "clip": true},
   "encoding": {"x": {"field": "t", "type": "quantitative", "axis": null},
    "y": {"datum": 5, "type": "quantitative", "axis": null}, "y2": {"datum": 19}}},
  {"data": {"name": "tabs"}, "mark": {"type": "text", "color": "#1e1e1e", "fontSize": 12.5, "align": "left", "baseline": "middle", "clip": true},
   "encoding": {"x": {"field": "t", "type": "quantitative", "axis": null},
    "y": {"datum": 11, "type": "quantitative", "axis": null}, "text": {"field": "label", "type": "nominal"}}},
  {"data": {"values": [{"t": 9.67, "r": 12}]}, "mark": {"type": "point", "shape": "triangle-left", "size": 16, "filled": true, "color": "#9a9a9a", "opacity": 1},
   "encoding": {"x": {"field": "t", "type": "quantitative", "axis": null}, "y": {"field": "r", "type": "quantitative", "axis": null}}},
  {"data": {"values": [{"t": 9.795, "r": 12}]}, "mark": {"type": "point", "shape": "triangle-right", "size": 16, "filled": true, "color": "#9a9a9a", "opacity": 1},
   "encoding": {"x": {"field": "t", "type": "quantitative", "axis": null}, "y": {"field": "r", "type": "quantitative", "axis": null}}}
 ]
},
{
 "width": 1410, "height": 466,
 "view": {"fill": "#ffffff", "stroke": null},
 "resolve": {"scale": {"y": "independent"}},
 "layer": [
  {
   "layer": [
    {"data": {"name": "egrid"}, "mark": {"type": "rule", "color": "#c8c8c8", "strokeDash": [3, 3], "strokeWidth": 1, "clip": true},
     "encoding": {"x": {"datum": 0, "type": "quantitative", "scale": {"domain": [0, 44.0625], "nice": false, "zero": false}, "axis": null}, "x2": {"datum": 42.8125},
      "y": {"field": "v", "type": "quantitative", "scale": {"domain": [9207.3, 12516.8], "nice": false, "zero": false}, "axis": null}}},
    {"data": {"name": "ugrid"}, "mark": {"type": "rule", "color": "#c8c8c8", "strokeDash": [3, 3], "strokeWidth": 1, "clip": true},
     "encoding": {"x": {"field": "u", "type": "quantitative", "axis": null},
      "y": {"datum": 12460, "type": "quantitative", "axis": null}, "y2": {"datum": 9250}}},
    {"data": {"name": "green"}, "mark": {"type": "line", "color": "#3aa83a", "strokeWidth": 1.5, "clip": true},
     "encoding": {"x": {"field": "u", "type": "quantitative", "axis": null}, "y": {"field": "v", "type": "quantitative", "axis": null}}},
    {"data": {"name": "blue"}, "mark": {"type": "line", "color": "#1a1aa6", "strokeWidth": 2, "clip": true},
     "encoding": {"x": {"field": "u", "type": "quantitative", "axis": null}, "y": {"field": "v", "type": "quantitative", "axis": null}}},
    {"data": {"values": [{"v": 12467}]}, "mark": {"type": "rule", "color": "#9a9a9a", "strokeWidth": 1, "clip": true},
     "encoding": {"x": {"datum": 0, "type": "quantitative", "axis": null}, "x2": {"datum": 42.8125},
      "y": {"field": "v", "type": "quantitative", "axis": null}}},
    {"data": {"values": [{"u": 42.8125}]}, "mark": {"type": "rule", "color": "#000000", "strokeWidth": 1, "clip": true},
     "encoding": {"x": {"field": "u", "type": "quantitative", "axis": null},
      "y": {"datum": 12467, "type": "quantitative", "axis": null}, "y2": {"datum": 9250}}},
    {"data": {"values": [{"v": 9889}, {"v": 9871}, {"v": 9250}]}, "mark": {"type": "rule", "color": "#000000", "strokeWidth": 1.2, "clip": true},
     "encoding": {"x": {"datum": 0, "type": "quantitative", "axis": null}, "x2": {"datum": 42.85},
      "y": {"field": "v", "type": "quantitative", "axis": null}}},
    {"data": {"name": "elabels"}, "mark": {"type": "rule", "color": "#808080", "strokeWidth": 1, "clip": true},
     "encoding": {"x": {"datum": 42.8125, "type": "quantitative", "axis": null}, "x2": {"datum": 42.98},
      "y": {"field": "v", "type": "quantitative", "axis": null}}},
    {"data": {"name": "elabels"}, "mark": {"type": "text", "color": "#000000", "fontSize": 9.5, "align": "left", "baseline": "middle", "clip": true},
     "encoding": {"x": {"datum": 43.05, "type": "quantitative", "axis": null},
      "y": {"field": "v", "type": "quantitative", "axis": null}, "text": {"field": "v", "type": "quantitative", "format": "d"}}}
   ]
  },
  {"data": {"name": "vol"}, "mark": {"type": "rule", "color": "#1e9e1e", "strokeWidth": 1, "clip": true},
   "encoding": {
    "x": {"field": "u", "type": "quantitative", "scale": {"domain": [0, 44.0625], "nice": false, "zero": false}, "axis": null},
    "y": {"field": "h", "type": "quantitative", "scale": {"domain": [-6, 460], "nice": false, "zero": false}, "axis": null},
    "y2": {"datum": 0}}}
 ]
}
]
}
